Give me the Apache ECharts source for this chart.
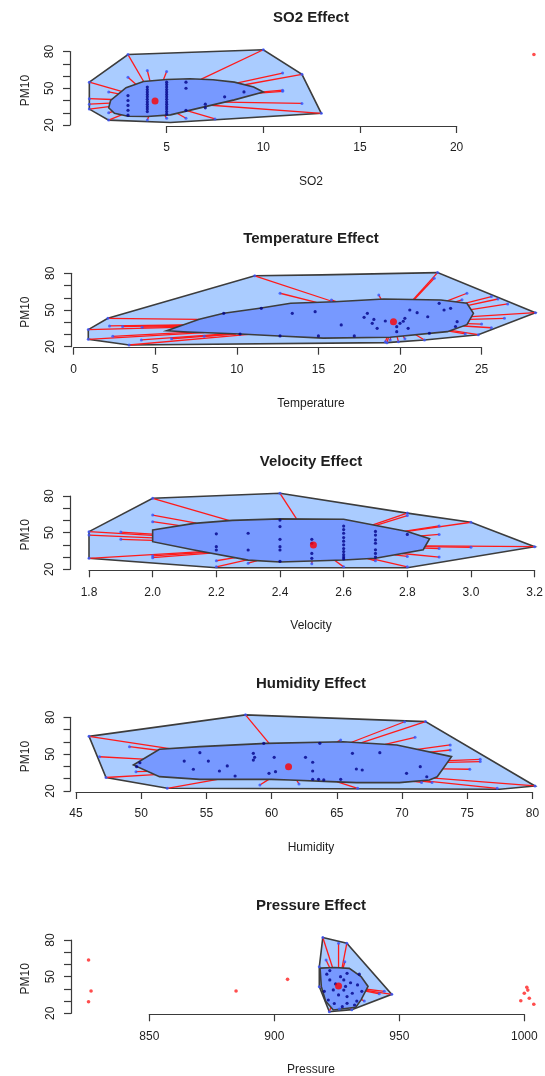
<!DOCTYPE html>
<html>
<head>
<meta charset="utf-8">
<script src="https://cdn.jsdelivr.net/npm/echarts@6/dist/echarts.min.js"></script>
<style>
  html, body { margin: 0; padding: 0; background: #ffffff; }
  #chart { width: 545px; height: 1076px; }
</style>
</head>
<body>
<div id="chart"></div>
<script>
// ---------- PM10 bagplots against five weather / pollution drivers ----------

// shared PM10 axis
const pm10Ticks = [20, 30, 40, 50, 60, 70, 80];
const pm10Labels = [20, 50, 80];

// SO2
const so2Ticks = [5, 10, 15, 20];
const so2Fence = [[1,55],[3,77.5],[10,81.4],[12,61.4],[13,29.5],[5.2,22],[2,24],[1,33]];
const so2Bag = [[2.0,34],[2.1,40],[2.9,50.5],[3.8,55.5],[5,57.2],[6.2,57.8],[7.4,57],[8.5,55],[9.5,51],[10,47],[8.5,40.5],[7,35],[5.2,28.3],[4,27],[3,27.2],[2.3,29.5]];
const so2Center = [4.4, 39.5];
const so2BagPts = [
  [3,44],[3,40],[3,36],[3,32],[3,28],
  [4,51],[4,49],[4,47],[4,45],[4,43],[4,41],[4,39],[4,37],[4,35],[4,33],[4,31],
  [5,55],[5,53],[5,51],[5,49],[5,47],[5,45],[5,43],[5,41],[5,39],[5,37],[5,35],[5,33],[5,31],[5,29],
  [6,55],[6,50],[6,32],[7,37],[7,34],[8,43],[9,47]
];
const so2LoopPts = [[1,55],[1,41.5],[1,37],[1,33],[2,47],[2,30],[2,24],[3,77.5],[3,59],[4,64.5],[4,24],[5,63.7],[5,25.5],[6,25.5],[7.5,25],[10,81.4],[11,62.4],[12,61.4],[11,48.4],[11,47.5],[12,37.6],[13,29.5]];
const so2Out = [[24,77.5]];

// Temperature
const tempTicks = [0, 5, 10, 15, 20, 25];
const tempFence = [[0.9,34],[2.1,43.2],[11.1,78],[15.2,78.7],[22.3,80.6],[28.3,47.8],[24.8,29.8],[21.5,25.5],[19.2,23.3],[3.4,21.4],[0.9,26]];
const tempBag = [[5.7,33],[7.7,42.4],[9.2,47.3],[11.4,51.4],[13.3,55.5],[16,56.8],[19,59],[22.5,58.2],[24.1,55.5],[24.5,47.3],[24.1,38],[22.9,32.3],[19.4,27.7],[15.3,27],[12.6,28.8],[10.2,30.4],[7,32]];
const tempCenter = [19.6, 40.5];
const tempBagPts = [
  [14.8,48.6],[16.4,37.8],[18.0,47.3],[17.8,44],[18.3,39.1],[18.6,35],[19.8,36.4],[20.0,39.1],[20.3,43.2],
  [20.6,50],[21.05,47.8],[21.7,44.5],[22.4,55.5],[22.7,50],[23.1,51.4],[23.5,40.5],[19.8,32.3],[20.5,35],
  [15.0,28.8],[17.2,28.8],[21.8,31],[13.4,47.3],[12.65,28.8],[11.5,51.4],[9.2,47.3],[10.2,30.4],
  [18.4,42.3],[19.1,41],[20.2,40.8],[23.4,36.5]
];
const tempLoopPts = [
  [0.9,34],[0.9,26],[2.1,43.2],[2.2,37],[3,36.5],[4.2,36],[2.4,28.5],[4.15,25.5],[3.4,21.4],[6,26.5],[8,28.5],
  [11.1,78],[12.65,63.7],[15.8,58.2],[18.7,62.3],[22.3,80.6],[22.1,76],[24.1,63.7],[23.8,58.3],
  [25.6,61],[26,59],[26.6,55],[28.3,47.8],[26.4,43.2],[25.6,35.5],[25,38.5],[24,30.5],[24.8,29.8],
  [21.5,25.5],[20.3,26.5],[19.9,24.1],[19.4,25.5],[19.1,24.1],[19.2,23.3]
];
const tempOut = [];

// Velocity
const velTicks = [1.8, 2.0, 2.2, 2.4, 2.6, 2.8, 3.0, 3.2];
const velFence = [[1.8,50.8],[2.0,78.1],[2.4,82.2],[2.8,66],[3.0,58.5],[3.2,38.5],[2.8,21.3],[2.2,21.3],[1.8,29]];
const velBag = [[2.0,52.2],[2.13,57.6],[2.25,60],[2.4,61.3],[2.6,61],[2.8,51],[2.87,45],[2.85,36],[2.7,29],[2.6,27.6],[2.4,26],[2.3,27.5],[2.13,35.8],[2.0,42.6]];
const velCenter = [2.505, 39.9];
const velBagPts = [
  [2.2,49],[2.2,38.5],[2.2,35.8],[2.3,49.5],[2.3,35.8],
  [2.4,60.3],[2.4,55],[2.4,44.5],[2.4,38.5],[2.4,35.8],[2.4,26.5],
  [2.5,44.5],[2.5,41.3],[2.5,33],[2.5,29],
  [2.6,55.4],[2.6,52.5],[2.6,49.5],[2.6,46],[2.6,43],[2.6,40],[2.6,37],[2.6,34.5],[2.6,32],[2.6,30],[2.6,28.5],
  [2.7,51],[2.7,48],[2.7,44],[2.7,41.3],[2.7,36],[2.7,33],[2.7,30],[2.8,48.5]
];
const velLoopPts = [
  [1.8,50.8],[1.8,48],[1.8,29],[1.9,50.5],[1.9,44.5],[2.0,78.1],[2.0,64.4],[2.0,59],[2.0,31],[2.0,29.5],
  [2.2,27],[2.2,22],[2.3,25],[2.4,82.2],[2.5,24.5],[2.6,22],[2.7,27],[2.8,66],[2.8,64],[2.8,22],[2.8,30.5],
  [2.9,55.5],[2.9,48.5],[2.9,37],[2.9,30],[3.0,58.5],[3.0,38],[3.2,38.5]
];
const velOut = [];

// Humidity
const humTicks = [45, 50, 55, 60, 65, 70, 75, 80];
const humFence = [[46,64.5],[58,82],[71.8,76.5],[80.2,24.1],[77.5,21.4],[52,22.2],[47.3,31]];
const humBag = [[49.4,41.2],[51.4,54],[54.5,56.1],[59.6,58.8],[65.5,60.1],[69.6,57.5],[73.8,48],[72.7,31.6],[72.1,29],[69.8,26.8],[66.5,26.8],[64.5,27.6],[61.4,29],[60,29.5],[54.5,29.5],[51.4,31.7]];
const humCenter = [61.3, 39.8];
const humBagPts = [
  [53.3,44.4],[55.15,44.4],[54,37.7],[56,36.3],[56.6,40.4],[57.2,32.2],[54.5,51.2],[58.6,50.7],[58.6,45.2],
  [58.7,47.4],[60.2,47.4],[59.8,34.4],[60.3,35.7],[62.6,47.4],[63.15,43.4],[63.15,36.3],[63.6,29.5],[64,29],
  [63.15,29.5],[66.2,50.7],[66.5,37.9],[66.95,37.1],[68.3,51.2],[70.35,34.4],[71.4,39.8],[71.9,31.6],
  [65.3,29.5],[63.7,58.8],[59.4,58.8],[49.9,43],[49.65,39.8]
];
const humLoopPts = [
  [46,64.5],[49.1,56.1],[46.8,47.9],[49.6,35.7],[47.3,31],[52,22.2],[58,82],[59.1,24.9],[62.1,25.7],
  [65.3,61.5],[70.2,76.4],[71.8,76.5],[71,63.7],[73.7,57.5],[73.7,53.4],[76,45.8],[76,44],[75.2,37.7],
  [80.2,24.1],[77.3,22.2],[72.3,27],[71.5,27],[66.6,22.2]
];
const humOut = [];

// Pressure
const presTicks = [850, 900, 950, 1000];
const presFence = [[919.4,82],[929,77.3],[947,35.5],[931,23],[922,21.3],[918,41.8],[918,58]];
const presBag = [[918.3,57],[924,57.5],[930,56.8],[934.7,50],[937.5,42],[934.7,31],[932.6,25],[923.6,22.7],[920.5,30],[918.8,42]];
const presCenter = [925.7, 42.3];
const presBagPts = [
  [922.2,47.3],[923.6,39.1],[925.7,35],[927.8,47.3],[929.1,52.7],[929.1,28.2],[931.2,36.4],[933.3,43.2],
  [921.6,30.9],[927.2,25.4],[932.1,26.8],[934,52],[922.2,55],[927.8,39],[929.1,33.7],[924.5,44],
  [926.5,50],[930.5,45],[920,38],[924,28],[935,38],[928.5,42],[933,30],[921,52]
];
const presLoopPts = [[919.4,82],[925.7,77.3],[929,77.3],[920.7,63.6],[928.2,62.2],[947,35.5],[944,38],[942,36],[918,41.8],[918,58],[931,23],[922,21.3],[926,23.5],[936,30]];
const presOut = [[825.7,63.6],[826.7,38.2],[825.7,29.5],[884.7,38.2],[905.3,47.8],[998.6,30.3],[1000,36.4],[1001,41.3],[1001.4,39],[1002,32.3],[1003.8,27.4]];

// ---------- panel setup ----------
const panels = [
  { title: 'SO2 Effect', xName: 'SO2', ticks: so2Ticks, dec: 0,
    fence: so2Fence, bag: so2Bag, center: so2Center, bagPts: so2BagPts, loopPts: so2LoopPts, out: so2Out,
    lay: { xRef: 0, pxRef: 70, pxPerX: 19.33, py20: 125, pxPerY: 1.225, axisX: 70 } },
  { title: 'Temperature Effect', xName: 'Temperature', ticks: tempTicks, dec: 0,
    fence: tempFence, bag: tempBag, center: tempCenter, bagPts: tempBagPts, loopPts: tempLoopPts, out: tempOut,
    lay: { xRef: 0, pxRef: 73.6, pxPerX: 16.32, py20: 346.7, pxPerY: 1.223, axisX: 71 } },
  { title: 'Velocity Effect', xName: 'Velocity', ticks: velTicks, dec: 1,
    fence: velFence, bag: velBag, center: velCenter, bagPts: velBagPts, loopPts: velLoopPts, out: velOut,
    lay: { xRef: 1.8, pxRef: 89, pxPerX: 318.3, py20: 569.3, pxPerY: 1.222, axisX: 70 } },
  { title: 'Humidity Effect', xName: 'Humidity', ticks: humTicks, dec: 0,
    fence: humFence, bag: humBag, center: humCenter, bagPts: humBagPts, loopPts: humLoopPts, out: humOut,
    lay: { xRef: 45, pxRef: 76, pxPerX: 13.04, py20: 791, pxPerY: 1.228, axisX: 70.5 } },
  { title: 'Pressure Effect', xName: 'Pressure', ticks: presTicks, dec: 0,
    fence: presFence, bag: presBag, center: presCenter, bagPts: presBagPts, loopPts: presLoopPts, out: presOut,
    lay: { xRef: 850, pxRef: 149.3, pxPerX: 2.5, py20: 1013.3, pxPerY: 1.222, axisX: 71 } }
];

const FONT = '"Liberation Sans", Arial, sans-serif';
const INK = '#1e1e1e';
const AXIS_COLOR = '#3a3a3a';
const PLOT_RIGHT = 552;
const Y_LO = 10, Y_HI = 90;

// whisker: from a loop point towards the center, stopping where it meets the bag outline
function cross(ax, ay, bx, by) { return ax * by - ay * bx; }
function insidePoly(pt, poly) {
  let inside = false;
  for (let i = 0, j = poly.length - 1; i < poly.length; j = i++) {
    const xi = poly[i][0], yi = poly[i][1], xj = poly[j][0], yj = poly[j][1];
    if (((yi > pt[1]) !== (yj > pt[1])) && (pt[0] < (xj - xi) * (pt[1] - yi) / (yj - yi) + xi)) inside = !inside;
  }
  return inside;
}
function whiskerEnd(p, c, poly) {
  const dx = c[0] - p[0], dy = c[1] - p[1];
  let best = null;
  for (let i = 0; i < poly.length; i++) {
    const a = poly[i], b = poly[(i + 1) % poly.length];
    const ex = b[0] - a[0], ey = b[1] - a[1];
    const den = cross(dx, dy, ex, ey);
    if (Math.abs(den) < 1e-12) continue;
    const t = cross(a[0] - p[0], a[1] - p[1], ex, ey) / den;
    const u = cross(a[0] - p[0], a[1] - p[1], dx, dy) / den;
    if (t >= 0 && t <= 1 && u >= 0 && u <= 1 && (best === null || t < best)) best = t;
  }
  if (best === null) return null;
  return [p[0] + best * dx, p[1] + best * dy];
}

const grids = [], xAxes = [], yAxes = [], series = [], graphics = [];
const noBounds = { containLabel: false, outerBoundsMode: 'none' };

panels.forEach(function (p) {
  const L = p.lay;
  const xPx = v => L.pxRef + (v - L.xRef) * L.pxPerX;
  const yPx = v => L.py20 - (v - 20) * L.pxPerY;
  const xLo = L.xRef + (L.axisX - L.pxRef) / L.pxPerX;
  const xHi = L.xRef + (PLOT_RIGHT - L.pxRef) / L.pxPerX;
  const axisY = L.py20 + 1;

  // plotting region (hidden scales carrying the marks)
  const g = grids.length;
  grids.push(Object.assign({ left: L.axisX, top: yPx(Y_HI), width: PLOT_RIGHT - L.axisX, height: (Y_HI - Y_LO) * L.pxPerY }, noBounds));
  xAxes.push({ gridIndex: g, type: 'value', min: xLo, max: xHi, show: false });
  yAxes.push({ gridIndex: g, type: 'value', min: Y_LO, max: Y_HI, show: false });

  // visible x axis, spanning first to last tick
  const t0 = p.ticks[0], t1 = p.ticks[p.ticks.length - 1];
  const gx = grids.length;
  grids.push(Object.assign({ left: xPx(t0), top: axisY - 1, width: xPx(t1) - xPx(t0), height: 1 }, noBounds));
  xAxes.push({
    gridIndex: gx, type: 'value', position: 'bottom', min: t0, max: t1,
    axisLine: { show: true, onZero: false, lineStyle: { color: AXIS_COLOR, width: 1.2 } },
    axisTick: { show: true, length: 7, customValues: p.ticks, lineStyle: { color: AXIS_COLOR, width: 1.2 } },
    axisLabel: { show: true, customValues: p.ticks, margin: 16, color: INK, fontSize: 12, fontFamily: FONT,
                 formatter: v => Number(v).toFixed(p.dec) },
    splitLine: { show: false }
  });
  yAxes.push({ gridIndex: gx, type: 'value', min: 0, max: 1, show: false });

  // visible PM10 axis, 20 to 80
  const gy = grids.length;
  grids.push(Object.assign({ left: L.axisX, top: yPx(80), width: 1, height: 60 * L.pxPerY }, noBounds));
  xAxes.push({ gridIndex: gy, type: 'value', min: 0, max: 1, show: false });
  yAxes.push({
    gridIndex: gy, type: 'value', position: 'left', min: 20, max: 80,
    axisLine: { show: true, onZero: false, lineStyle: { color: AXIS_COLOR, width: 1.2 } },
    axisTick: { show: true, length: 7, customValues: pm10Ticks, lineStyle: { color: AXIS_COLOR, width: 1.2 } },
    axisLabel: { show: true, customValues: pm10Labels, rotate: 90, margin: 14, color: INK, fontSize: 12, fontFamily: FONT },
    splitLine: { show: false }
  });

  const polySeries = (verts, fill, z) => ({
    type: 'custom', coordinateSystem: 'cartesian2d', xAxisIndex: g, yAxisIndex: g,
    data: verts, silent: true, z: z, animation: false,
    renderItem: (params, api) => params.dataIndex === 0 ? {
      type: 'polygon',
      shape: { points: verts.map(v => api.coord(v)) },
      style: { fill: fill, stroke: '#3c3c3c', lineWidth: 1.6 }
    } : null
  });

  // loop hull
  series.push(polySeries(p.fence, '#aaccff', 1));

  // whiskers
  const whiskers = [];
  p.loopPts.forEach(pt => {
    if (insidePoly(pt, p.bag)) return;
    const e = whiskerEnd(pt, p.center, p.bag);
    if (e) whiskers.push([pt[0], pt[1], e[0], e[1]]);
  });
  series.push({
    type: 'custom', coordinateSystem: 'cartesian2d', xAxisIndex: g, yAxisIndex: g,
    data: whiskers, silent: true, z: 2, animation: false,
    encode: { x: [0, 2], y: [1, 3] },
    renderItem: (params, api) => {
      const a = api.coord([api.value(0), api.value(1)]);
      const b = api.coord([api.value(2), api.value(3)]);
      return { type: 'line', shape: { x1: a[0], y1: a[1], x2: b[0], y2: b[1] },
               style: { stroke: '#ff1a1a', lineWidth: 1.3 } };
    }
  });

  // bag hull
  series.push(polySeries(p.bag, '#7799ff', 3));

  // points
  series.push({ type: 'scatter', xAxisIndex: g, yAxisIndex: g, data: p.loopPts, symbol: 'circle', symbolSize: 3,
                itemStyle: { color: '#3355ff' }, z: 4, silent: true, animation: false });
  series.push({ type: 'scatter', xAxisIndex: g, yAxisIndex: g, data: p.bagPts, symbol: 'circle', symbolSize: 3.2,
                itemStyle: { color: '#000088' }, z: 5, silent: true, animation: false });
  series.push({ type: 'scatter', xAxisIndex: g, yAxisIndex: g, data: p.out, symbol: 'circle', symbolSize: 3.6,
                itemStyle: { color: '#ff2020' }, z: 5, silent: true, animation: false });
  series.push({ type: 'scatter', xAxisIndex: g, yAxisIndex: g, data: [p.center], symbol: 'circle', symbolSize: 7,
                itemStyle: { color: '#ff0000' }, z: 6, silent: true, animation: false });

  // titles and axis names
  graphics.push({ type: 'text', x: 311, y: axisY - 108.5,
    style: { text: p.title, font: 'bold 15px ' + FONT, fill: INK, align: 'center', verticalAlign: 'middle',
             textAlign: 'center', textVerticalAlign: 'middle' } });
  graphics.push({ type: 'text', x: 311, y: axisY + 55.5,
    style: { text: p.xName, font: '12px ' + FONT, fill: INK, align: 'center', verticalAlign: 'middle',
             textAlign: 'center', textVerticalAlign: 'middle' } });
  graphics.push({ type: 'text', x: 26, y: L.py20 - 34.5, rotation: Math.PI / 2,
    style: { text: 'PM10', font: '12px ' + FONT, fill: INK, align: 'center', verticalAlign: 'middle',
             textAlign: 'center', textVerticalAlign: 'middle' } });
});

const chart = echarts.init(document.getElementById('chart'), null, { renderer: 'canvas' });
chart.setOption({
  backgroundColor: '#ffffff',
  animation: false,
  grid: grids,
  xAxis: xAxes,
  yAxis: yAxes,
  series: series,
  graphic: graphics
});
</script>
</body>
</html>
